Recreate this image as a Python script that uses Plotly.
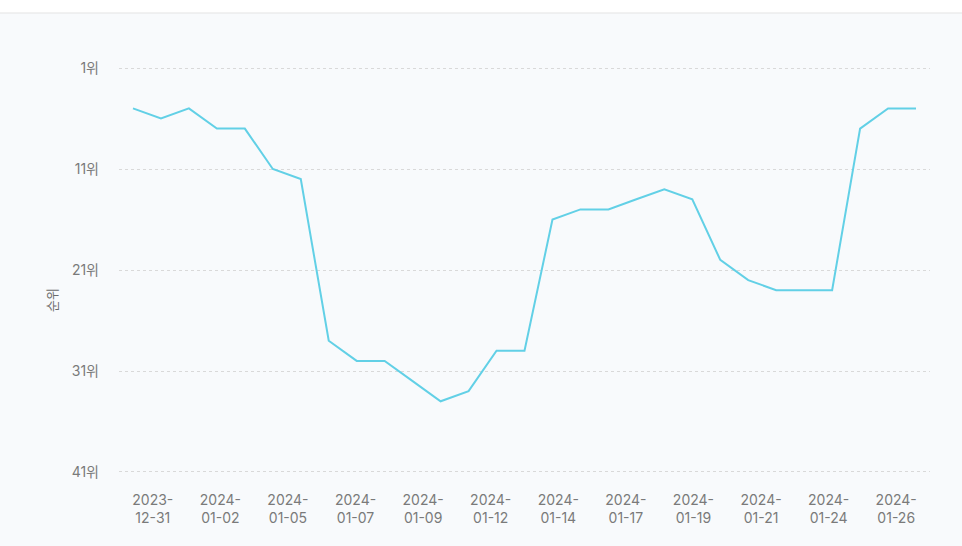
import plotly.graph_objects as go
import pandas as pd

dates = pd.date_range("2023-12-30", "2024-01-27", freq="D")
ranks = [5, 6, 5, 7, 7, 11, 12, 28, 30, 30, 32, 34, 33, 29, 29,
         16, 15, 15, 14, 13, 14, 20, 22, 23, 23, 23, 7, 5, 5]
tick_labels = ["2023-<br>12-31", "2024-<br>01-02", "2024-<br>01-05", "2024-<br>01-07",
               "2024-<br>01-09", "2024-<br>01-12", "2024-<br>01-14", "2024-<br>01-17",
               "2024-<br>01-19", "2024-<br>01-21", "2024-<br>01-24", "2024-<br>01-26"]
y_ticks = [1, 11, 21, 31, 41]
y_tick_text = [f"{v}위" for v in y_ticks]
y_title = "순위"

x_start = dates[0] - pd.Timedelta(hours=12)
x_end = dates[-1] + pd.Timedelta(hours=12)
n = len(tick_labels)
span = x_end - x_start
tick_vals = [x_start + span * (k + 0.5) / n for k in range(n)]

font_family = "Inter, 'Noto Sans CJK KR', sans-serif"

fig = go.Figure()
fig.add_trace(go.Scatter(
    x=dates, y=ranks, mode="lines",
    line=dict(color="#62d0e6", width=2),
    hoverinfo="x+y",
))

fig.update_layout(
    width=962, height=546,
    margin=dict(l=119, r=32, t=67, b=73),
    paper_bgcolor="#f8fafc",
    plot_bgcolor="#f8fafc",
    font=dict(family=font_family, color="#7a7a7a", size=14),
    showlegend=False,
    xaxis=dict(
        range=[x_start, x_end],
        tickmode="array", tickvals=tick_vals, ticktext=tick_labels,
        showgrid=False, zeroline=False, showline=False,
        ticks="", ticklabelstandoff=17,
        tickfont=dict(size=14, color="#7a7a7a"),
    ),
    yaxis=dict(
        range=[41.1, 0.9],
        tickmode="array", tickvals=y_ticks, ticktext=y_tick_text,
        showgrid=True, gridcolor="#d9d9d9", griddash="3px,3px", gridwidth=1,
        zeroline=False, showline=False, ticks="",
        ticklabelstandoff=19,
        tickfont=dict(size=14, color="#7a7a7a"),
    ),
    annotations=[
        dict(text=y_title, textangle=-90, xref="paper", yref="paper",
             x=(52 - 119) / 811, y=(473 - 300) / 406, xanchor="center", yanchor="middle",
             showarrow=False, font=dict(size=13, color="#6b6b6b")),
    ],
    shapes=[
        dict(type="rect", xref="paper", yref="paper", x0=-0.2, x1=1.1,
             y0=1 + 54 / 406, y1=1.3, fillcolor="#ffffff", line=dict(width=0), layer="below"),
        dict(type="line", xref="paper", yref="paper", x0=-0.2, x1=1.1,
             y0=1 + 54 / 406, y1=1 + 54 / 406, line=dict(color="#e3e3e3", width=1)),
    ],
)

fig.write_html("out.html", config={"displayModeBar": False},
               post_script="document.body.style.margin='0';document.body.style.overflow='hidden';")
